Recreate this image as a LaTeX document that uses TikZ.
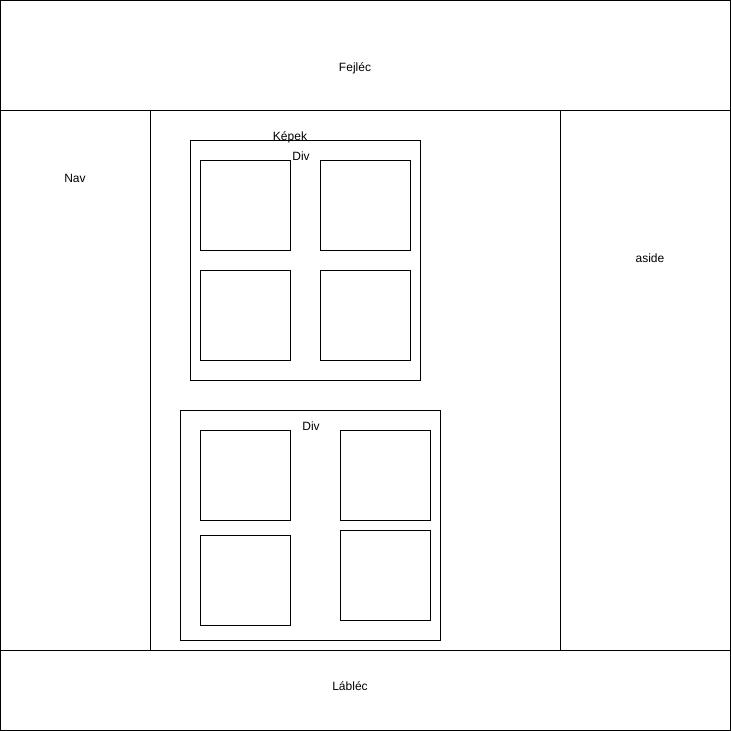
\documentclass[tikz,border=0pt]{standalone}
\usepackage{fontspec}
\setmainfont{Liberation Sans}
\begin{document}
\begin{tikzpicture}[x=1pt,y=-1pt,
  box/.style={draw=black, line width=1pt},
  lbl/.style={font=\fontsize{12}{14}\selectfont, inner sep=0pt}]
\useasboundingbox (0,0) rectangle (731,731);
% layout regions
\draw[box] (0,0) rectangle (730,110);
\draw[box] (0,110) rectangle (150,650);
\draw[box] (150,110) rectangle (560,650);
\draw[box] (560,110) rectangle (730,650);
\draw[box] (0,650) rectangle (730,730);
\draw[box] (150,110) -- (150,650);
% labels
\node[lbl] (fej) at (355,68) {Fejléc};
\node[lbl] (nav) at (75,178) {Nav};
\node[lbl] (aside) at (650,258) {aside};
\node[lbl] (lab) at (350,686) {Lábléc};
% Div 1
\draw[box] (190,140) rectangle (420,380);
\draw[box] (190,140.5) -- (420,140.5);
\node[lbl] (kep) at (290,137) {Képek};
\node[lbl] (div1) at (301,156) {Div};
\draw[box] (200,160) rectangle (290,250);
\draw[box] (320,160) rectangle (410,250);
\draw[box] (200,270) rectangle (290,360);
\draw[box] (320,270) rectangle (410,360);
% Div 2
\draw[box] (180,410) rectangle (440,640);
\draw[box] (180,410.5) -- (440,410.5);
\node[lbl] (div2) at (311,426) {Div};
\draw[box] (200,430) rectangle (290,520);
\draw[box] (340,430) rectangle (430,520);
\draw[box] (200,535) rectangle (290,625);
\draw[box] (340,530) rectangle (430,620);
\end{tikzpicture}
\end{document}
